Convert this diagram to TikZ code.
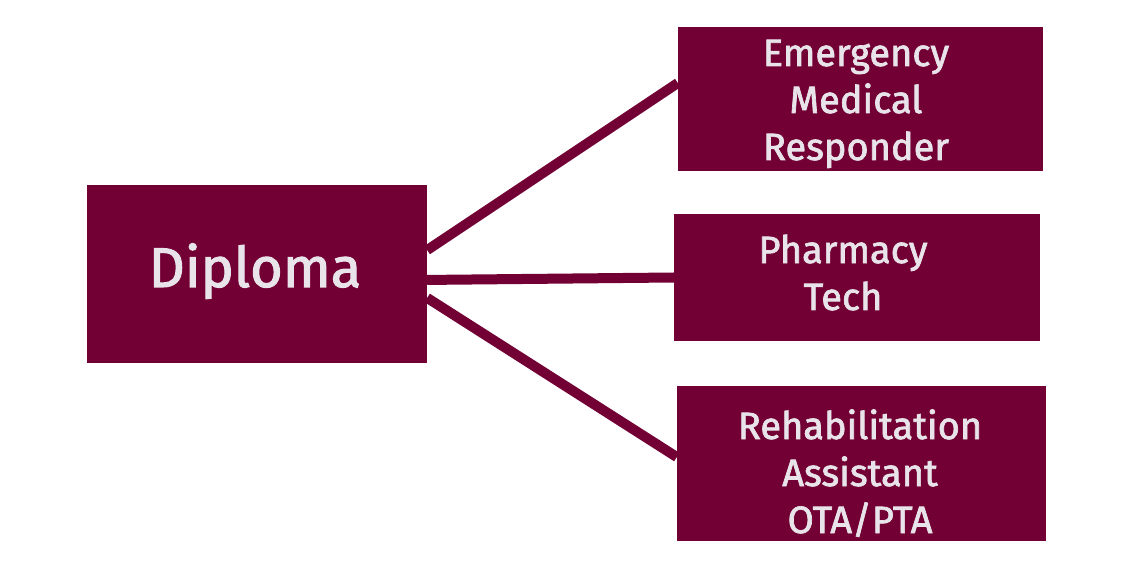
\documentclass[tikz,border=0pt]{standalone}
\usepackage{fontspec}
\setmainfont{Fira Sans}[UprightFeatures={FakeBold=1.8}]
\definecolor{maroon}{RGB}{115,0,52}
\definecolor{txt}{RGB}{232,228,234}
\tikzset{
  box/.style={rectangle, fill=maroon, draw=none, inner sep=0pt},
  lbl/.style={text=txt, align=center, font=\fontsize{38}{47}\selectfont, inner sep=0pt},
  conn/.style={draw=maroon, line width=10pt}
}
\begin{document}
\begin{tikzpicture}[x=1pt,y=-1pt]
\useasboundingbox (0,0) rectangle (1130,569);
\node[box, minimum width=340pt, minimum height=178pt] (dip) at (257,274) {};
\node[box, minimum width=365pt, minimum height=144pt] (emr) at (860.5,99) {};
\node[box, minimum width=366pt, minimum height=127pt] (ph) at (857,277.5) {};
\node[box, minimum width=369pt, minimum height=155pt] (reh) at (861.5,463.5) {};
\node[lbl, font=\fontsize{56}{60}\selectfont, anchor=base] (dipT) at (255,287) {Diploma};
\node[lbl, anchor=base] (emrT) at (856,160) {Emergency\\Medical\\Responder};
\node[lbl, anchor=base] (phT) at (843,310) {Pharmacy\\Tech};
\node[lbl, anchor=base] (rehT) at (860,533) {Rehabilitation\\Assistant\\OTA/PTA};
\draw[conn] (dip.8) -- (emr.175.6);
\draw[conn] (dip.-2.4) -- (ph.180.3);
\draw[conn] (dip.-8.7) -- (reh.178.9);
\end{tikzpicture}
\end{document}
